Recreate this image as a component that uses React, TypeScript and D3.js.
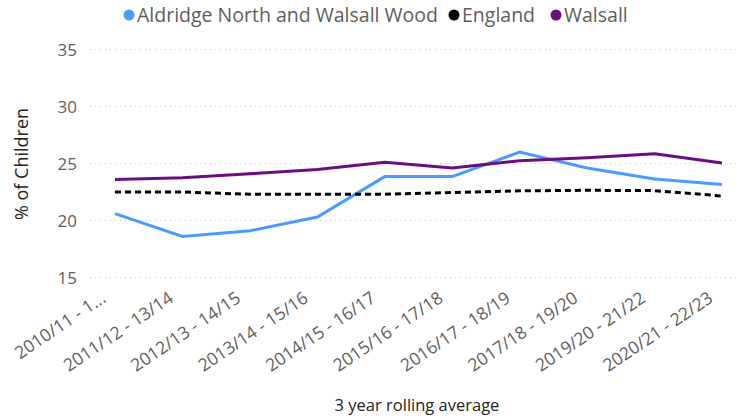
import React from "react";
import * as d3 from "d3";

const categories = [
  "2010/11 - 1...",
  "2011/12 - 13/14",
  "2012/13 - 14/15",
  "2013/14 - 15/16",
  "2014/15 - 16/17",
  "2015/16 - 17/18",
  "2016/17 - 18/19",
  "2017/18 - 19/20",
  "2019/20 - 21/22",
  "2020/21 - 22/23",
];
const aldridge = [20.6, 18.6, 19.1, 20.3, 23.85, 23.85, 26.0, 24.6, 23.65, 23.15];
const england = [22.5, 22.5, 22.3, 22.3, 22.3, 22.45, 22.6, 22.65, 22.62, 22.15];
const walsall = [23.6, 23.75, 24.1, 24.47, 25.1, 24.6, 25.25, 25.5, 25.85, 25.05];
const yTicks = [15, 20, 25, 30, 35];
const seriesNames = ["Aldridge North and Walsall Wood", "England", "Walsall"];

const W = 742;
const H = 418;
const FONT = "'Segoe UI', 'Open Sans', sans-serif";
const TEXT = "#605E5C";

export default function App() {
  const x = d3.scalePoint<string>().domain(categories).range([115, 722]);
  const y = d3.scaleLinear().domain([15, 35]).range([277.5, 49.5]);
  const line = d3
    .line<number>()
    .x((_, i) => x(categories[i]) as number)
    .y((d) => y(d));

  const series = [
    { name: seriesNames[0], data: aldridge, color: "#4A9BFF", dash: undefined },
    { name: seriesNames[1], data: england, color: "#000000", dash: "6,4" },
    { name: seriesNames[2], data: walsall, color: "#6A0F80", dash: undefined },
  ];

  const legendX = [129, 454, 556];

  return (
    <svg
      width={W}
      height={H}
      style={{ position: "absolute", left: 0, top: 0, fontFamily: FONT }}
    >
      <rect width={W} height={H} fill="#fff" />
      {/* legend */}
      {series.map((s, i) => (
        <g key={s.name}>
          <circle cx={legendX[i]} cy={15} r={5.5} fill={s.color} />
          <text x={legendX[i] + 8} y={22} fontSize={19.5} fill={TEXT}>
            {s.name}
          </text>
        </g>
      ))}
      {/* grid + y ticks */}
      {yTicks.map((t) => (
        <g key={t}>
          <line
            x1={90}
            x2={740}
            y1={y(t)}
            y2={y(t)}
            stroke="#C8C8C8"
            strokeDasharray="1,4"
            strokeWidth={1}
          />
          <text
            x={77}
            y={y(t) + 6}
            textAnchor="end"
            fontSize={17}
            fill={TEXT}
          >
            {t}
          </text>
        </g>
      ))}
      {/* y title */}
      <text
        transform={`translate(28,164) rotate(-90)`}
        textAnchor="middle"
        fontSize={18}
        fill="#252423"
      >
        % of Children
      </text>
      {/* x labels */}
      {categories.map((c) => (
        <text
          key={c}
          transform={`translate(${(x(c) as number) - 8},${301}) rotate(-34)`}
          textAnchor="end"
          fontSize={17.5}
          fill={TEXT}
        >
          {c}
        </text>
      ))}
      <text x={417} y={411} textAnchor="middle" fontSize={16.5} fill="#252423">
        3 year rolling average
      </text>
      {/* lines */}
      {series.map((s) => (
        <path
          key={s.name}
          d={line(s.data) || ""}
          fill="none"
          stroke={s.color}
          strokeWidth={3}
          strokeDasharray={s.dash}
        />
      ))}
    </svg>
  );
}
